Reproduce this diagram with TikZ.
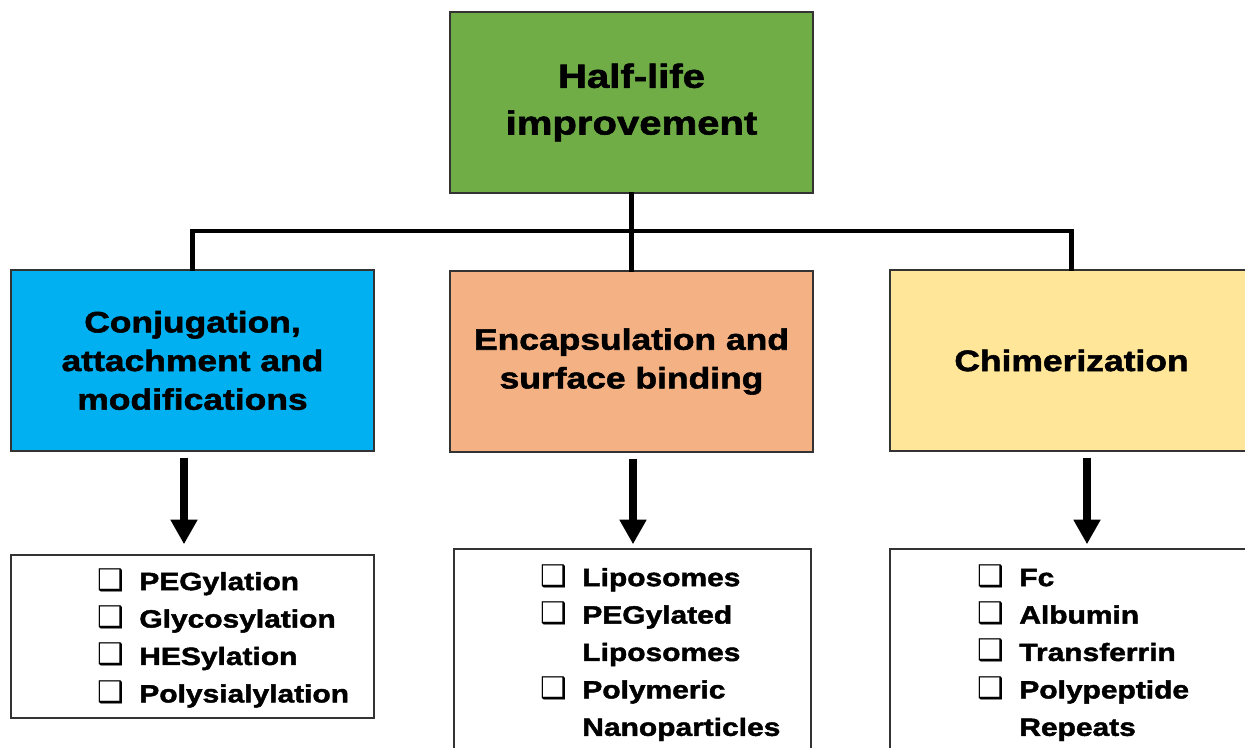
\documentclass[tikz,border=0pt]{standalone}
\usepackage{fontspec}
\setmainfont{Liberation Sans}[FakeStretch=1.2,FakeBold=1.8]
\newfontfamily\symfont{DejaVu Sans}
\usepackage{tikz}
\usetikzlibrary{arrows.meta,positioning}
\definecolor{hlgreen}{HTML}{70AD47}
\definecolor{hlblue}{HTML}{00B0F0}
\definecolor{hlorange}{HTML}{F4B183}
\definecolor{hlyellow}{HTML}{FFE699}
\newcommand{\chk}{\makebox[0.84cm][l]{\symfont\mdseries\fontsize{17}{21}\selectfont ❑}}
\newcommand{\cont}{\hspace*{0.84cm}}

\begin{document}
\begin{tikzpicture}[
    box/.style={draw=black!80,line width=0.8pt,minimum width=7.26cm,minimum height=3.62cm,
                align=center,font=\bfseries\fontsize{16.8}{22}\selectfont,inner sep=0pt},
    listbox/.style={draw=black!80,line width=0.8pt,fill=white,inner sep=0pt},
    listtext/.style={anchor=north west,align=left,inner sep=0pt,font=\bfseries\fontsize{14.2}{21.3}\selectfont},
    link/.style={line width=2.4pt,line cap=rect},
    bigarrow/.style={line width=4.5pt,-{Triangle[width=14.5pt,length=14pt]}}]
    \path[use as bounding box,clip] (0,0) rectangle (24.9,-14.96);
    \node[box,fill=hlgreen,font=\bfseries\fontsize{19}{26.6}\selectfont] (half) at (12.63,-2.05) {Half-life\\improvement};
    \node[box,fill=hlblue] (conj) at (3.85,-7.21) {Conjugation,\\attachment and\\modifications};
    \node[box,fill=hlorange] (enc) at (12.63,-7.23) {Encapsulation and\\surface binding};
    \node[box,fill=hlyellow] (chim) at (21.43,-7.21) {Chimerization};
    \draw[link] (half.south) -- (enc.north);
    \draw[link] (conj.north) -- ++(0,0.76) -| (chim.north);
    \node[listbox,minimum width=7.26cm,minimum height=3.26cm] (convbox) at (3.85,-12.73) {};
    \node[listbox,minimum width=7.14cm,minimum height=5.2cm] (encbox) at (12.65,-13.58) {};
    \node[listbox,minimum width=7.26cm,minimum height=5.2cm] (chimbox) at (21.43,-13.58) {};
    \node[listtext] (convlist) at (1.94,-11.36) {\chk PEGylation\\\chk Glycosylation\\\chk HESylation\\\chk Polysialylation};
    \node[listtext] (enclist) at (10.8,-11.28) {\chk Liposomes\\\chk PEGylated\\\cont Liposomes\\\chk Polymeric\\\cont Nanoparticles};
    \node[listtext] (chimlist) at (19.54,-11.28) {\chk Fc\\\chk Albumin\\\chk Transferrin\\\chk Polypeptide\\\cont Repeats};
    \draw[bigarrow,shorten <=0.12cm,shorten >=0.2cm] ([xshift=-0.17cm]conj.south) -- ([xshift=-0.17cm]conj.south |- convbox.north);
    \draw[bigarrow,shorten <=0.12cm,shorten >=0.08cm] ([xshift=0.03cm]enc.south) -- ([xshift=0.03cm]enc.south |- encbox.north);
    \draw[bigarrow,shorten <=0.12cm,shorten >=0.08cm] ([xshift=0.31cm]chim.south) -- ([xshift=0.31cm]chim.south |- chimbox.north);
\end{tikzpicture}
\end{document}
